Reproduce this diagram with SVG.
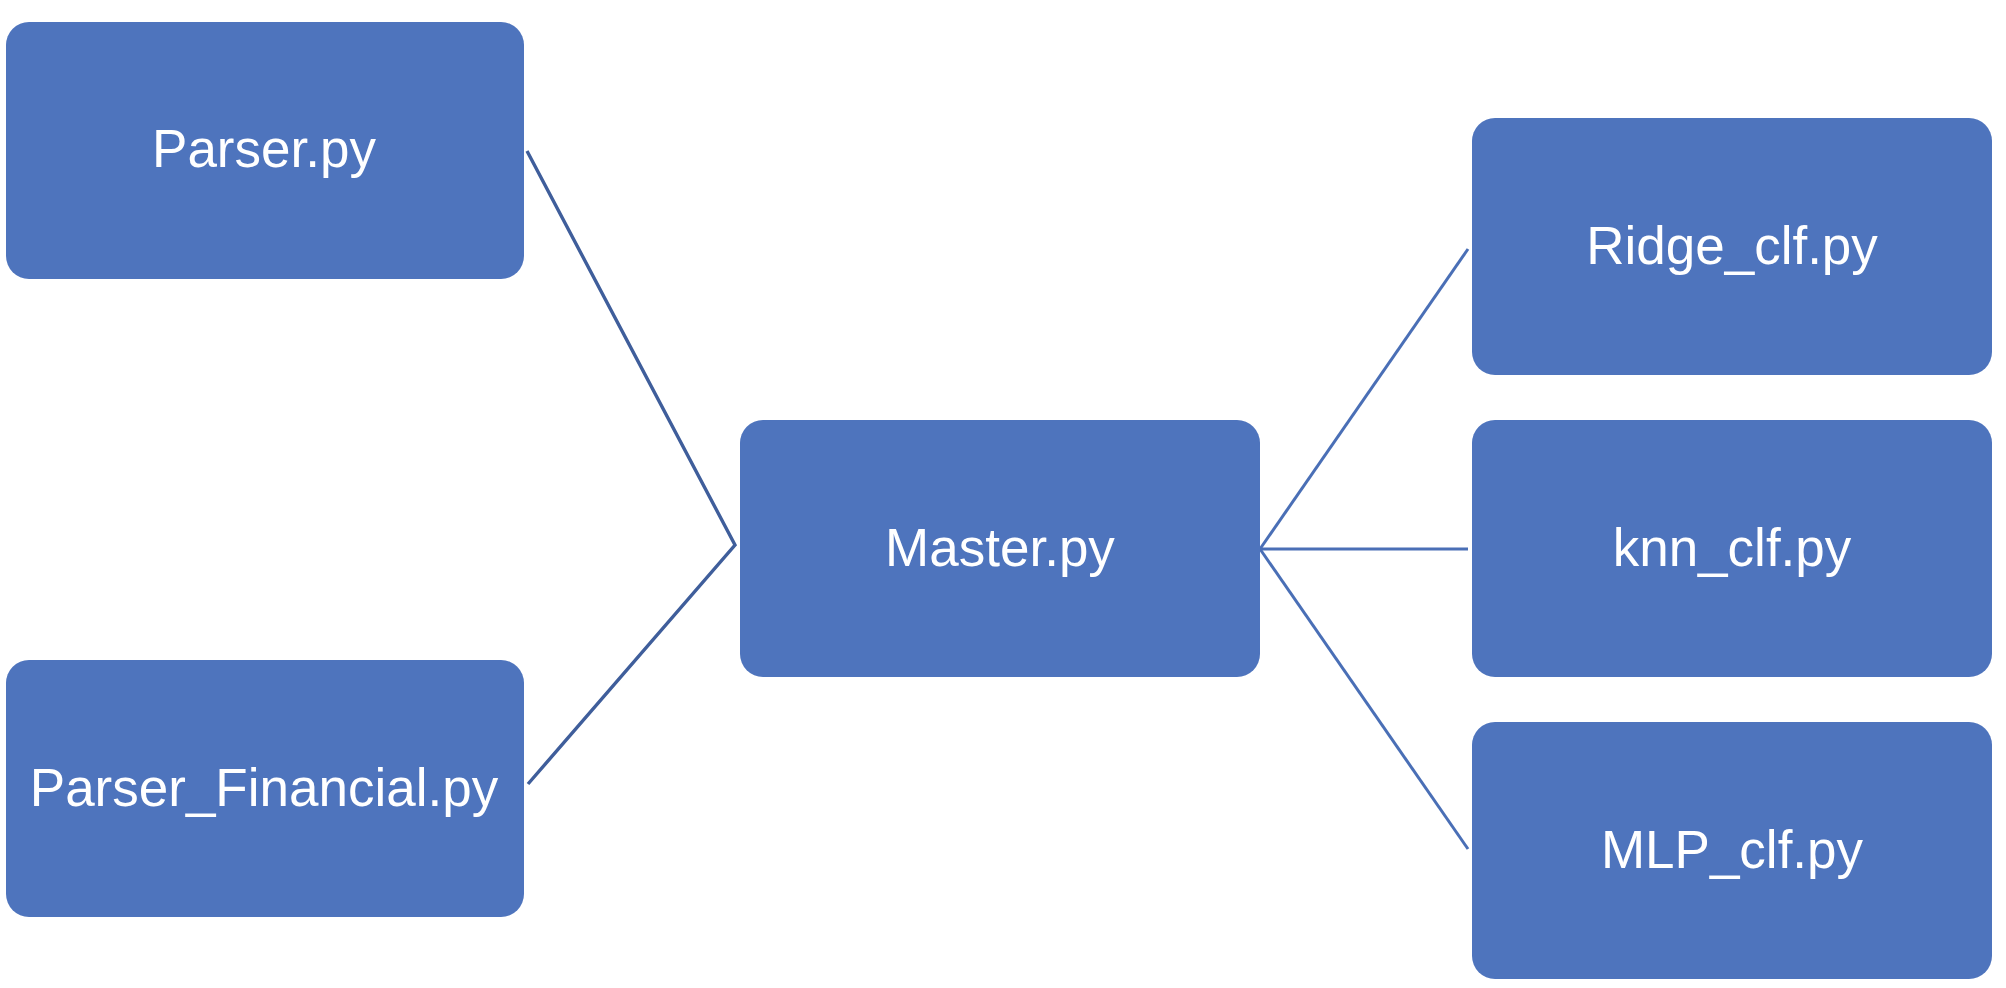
<svg xmlns="http://www.w3.org/2000/svg" width="2006" height="988" viewBox="0 0 2006 988">
<style>
.box{fill:#4E74BD}
.lbl{font-family:"Liberation Sans",Arial,sans-serif;font-size:53px;fill:#FFFFFF;text-anchor:middle}
.cl{fill:none;stroke:#3F5E9B;stroke-width:3.4;stroke-linejoin:miter}
.cr{fill:none;stroke:#4A6FB6;stroke-width:3}
</style>
<rect width="2006" height="988" fill="#FFFFFF"/>
<g id="connectors">
<polyline class="cl" points="527,151 735,545 528,784"/>
<line class="cr" x1="1260" y1="549" x2="1468" y2="249"/>
<line class="cr" x1="1260" y1="549" x2="1468" y2="549"/>
<line class="cr" x1="1260" y1="549" x2="1468" y2="849"/>
</g>
<g id="parser">
<rect class="box" x="6" y="22" width="518" height="257" rx="23"/>
<text class="lbl" x="264" y="167">Parser.py</text>
</g>
<g id="parser_financial">
<rect class="box" x="6" y="660" width="518" height="257" rx="23"/>
<text class="lbl" x="264" y="806">Parser_Financial.py</text>
</g>
<g id="master">
<rect class="box" x="740" y="420" width="520" height="257" rx="23"/>
<text class="lbl" x="1000" y="566">Master.py</text>
</g>
<g id="ridge_clf">
<rect class="box" x="1472" y="118" width="520" height="257" rx="23"/>
<text class="lbl" x="1732" y="264">Ridge_clf.py</text>
</g>
<g id="knn_clf">
<rect class="box" x="1472" y="420" width="520" height="257" rx="23"/>
<text class="lbl" x="1732" y="566">knn_clf.py</text>
</g>
<g id="mlp_clf">
<rect class="box" x="1472" y="722" width="520" height="257" rx="23"/>
<text class="lbl" x="1732" y="868">MLP_clf.py</text>
</g>
</svg>
